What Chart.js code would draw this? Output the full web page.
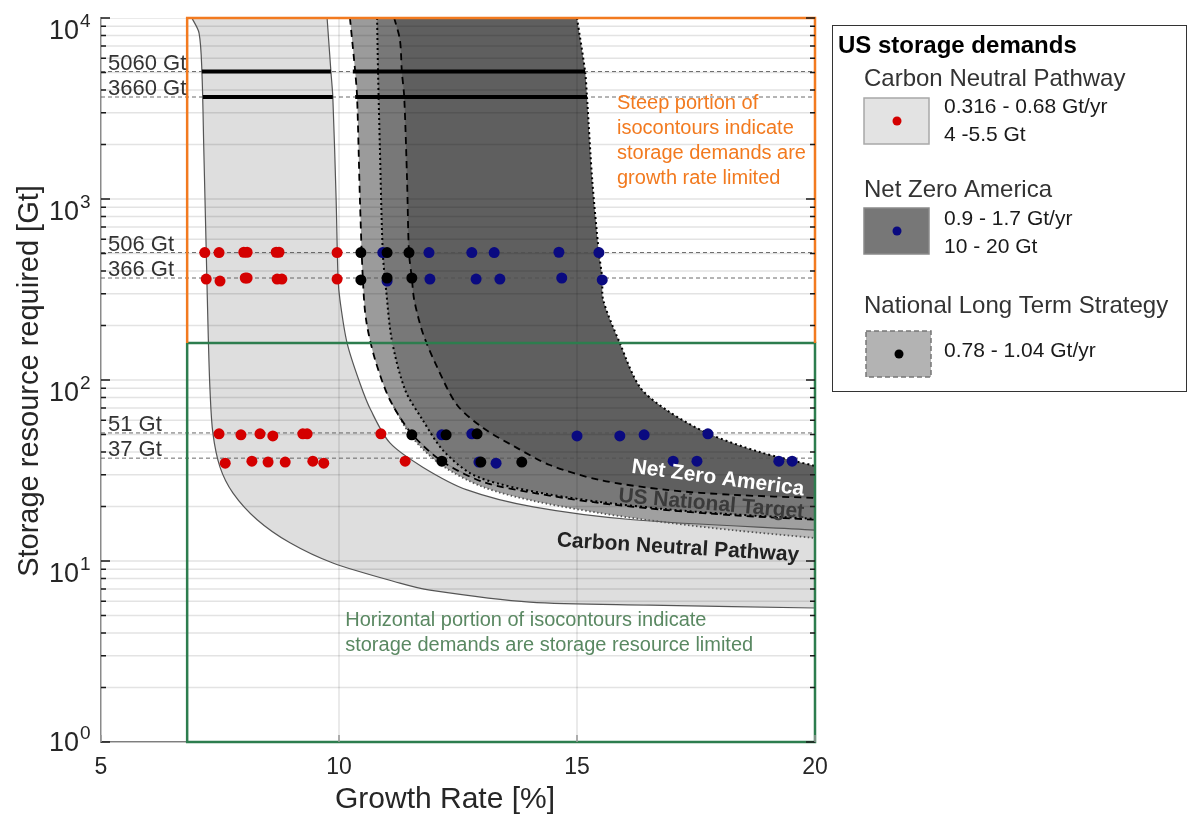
<!DOCTYPE html>
<html>
<head>
<meta charset="utf-8">
<title>US storage demands</title>
<script src="https://cdn.jsdelivr.net/npm/chart.js@4.4.1/dist/chart.umd.min.js"></script>
<style>
  html, body { margin: 0; padding: 0; background: #fff; }
  #wrap { width: 1192px; height: 817px; }
</style>
</head>
<body>
<div id="wrap"><canvas id="storageChart" width="1192" height="817"></canvas></div>
<script>
// ---- data (growth rate %, storage Gt) ----
var growthTicks = [5, 10, 15, 20];
var yMajor = [1, 10, 100, 1000, 10000];
var yMajorExp = ['0', '1', '2', '3', '4'];
var yMantissa = [1, 2, 3, 4, 5, 6, 7, 8, 9];

// isocontour boundaries
var cnpLow = [[6.91,10000],[7.06,8260],[7.12,5060],[7.16,1866],[7.21,522],[7.25,189],[7.29,88],[7.35,51],[7.50,33],[7.77,23.8],[8.28,16.9],[8.97,12.6],[9.87,9.75],[11.28,7.55],[11.91,6.91],[14.01,5.93],[16.53,5.71],[20,5.5]];
var cnpHigh = [[9.75,10000],[9.83,5060],[9.87,3660],[9.94,986],[9.98,366],[10.02,277],[10.17,160],[10.44,96],[10.67,68],[11.07,44.9],[11.76,33],[12.69,24.7],[14.08,19.9],[16.18,16.9],[20,14.8]];
var nltsLow = [[10.23,10000],[10.34,5060],[10.38,3660],[10.44,986],[10.50,366],[10.57,214],[10.76,129],[11.07,77.6],[11.53,50.4],[12.16,35.6],[13.03,27.3],[14.08,23.8],[15.48,20.9],[16.89,19.1],[18.28,17.9],[20,16.9]];
var nltsHigh = [[11.16,10000],[11.28,7560],[11.32,5060],[11.37,3660],[11.43,1274],[11.47,506],[11.53,366],[11.58,277],[11.76,182],[12.06,118],[12.48,72.8],[13.03,54.3],[13.70,42.7],[14.43,33.9],[15.48,28.0],[16.89,24.7],[18.28,23.2],[20,22.3]];
var nltsOuter = [[11.07,77.6],[11.53,48.5],[12.16,33.8],[13.03,25.6],[14.08,21.5],[15.48,18.4],[16.89,16.3],[18.28,14.8],[20,13.4]];
var nzaLow = [[10.80,10000],[10.82,5060],[10.86,1866],[10.92,506],[10.99,314],[11.11,166],[11.39,88],[11.76,60],[12.18,41],[12.75,30.6],[13.38,26.6],[14.43,23.3],[15.48,21.2],[16.89,19.3],[18.28,18.1],[20,17.1]];
var nzaHigh = [[15.0,10000],[15.17,5060],[15.21,3660],[15.32,1274],[15.46,506],[15.53,366],[15.55,277],[15.90,160],[16.32,91.5],[16.89,68],[17.73,51],[18.84,40],[20,33.5]];

// scenario points
var cnpPts = [[7.18,506],[7.48,506],[8.00,508],[8.07,508],[8.68,508],[8.74,508],[9.96,506],
  [7.21,361],[7.50,352],[8.03,366],[8.07,366],[8.70,361],[8.80,361],[9.96,361],
  [7.48,50.4],[7.94,49.8],[8.34,50.4],[8.61,49.1],[9.24,50.4],[9.33,50.4],[10.88,50.4],
  [7.61,34.7],[8.17,35.6],[8.51,35.2],[8.87,35.2],[9.45,35.6],[9.68,34.7],[11.39,35.6]];
var nltsPts = [[10.46,506],[11.01,506],[11.47,506],[10.46,357],[11.01,366],[11.53,366],
  [11.53,49.8],[12.25,49.8],[12.90,50.4],[12.16,35.6],[12.98,35.2],[13.84,35.2]];
var nzaPts = [[10.92,506],[11.89,506],[12.79,506],[13.26,506],[14.62,508],[15.46,506],
  [11.01,352],[11.91,361],[12.88,361],[13.38,361],[14.68,366],[15.53,357],
  [12.16,49.8],[12.79,50.4],[15.0,49.1],[15.90,49.1],[16.41,49.8],[17.75,50.4],
  [12.94,35.2],[13.30,34.7],[17.02,35.6],[17.52,35.6],[19.24,35.6],[19.52,35.6]];

// reference storage levels
var refLevels = [5060, 3660, 506, 366, 51, 37];
var refLabels = ['5060 Gt', '3660 Gt', '506 Gt', '366 Gt', '51 Gt', '37 Gt'];
var thickLevels = [5060, 3660];
var thickSpans = [[[7.12, 9.83], [10.29, 15.17]], [[7.14, 9.87], [10.34, 15.21]]];

// limit boxes
var boxX = [6.81, 20];
var boxSplit = 160;
var boxY = [1, 10000];

var steepNote = ['Steep portion of', 'isocontours indicate', 'storage demands are', 'growth rate limited'];
var flatNote = ['Horizontal portion of isocontours indicate', 'storage demands are storage resource limited'];

var legendItems = [
  { name: 'Carbon Neutral Pathway', lines: ['0.316 - 0.68 Gt/yr', '4 -5.5 Gt'] },
  { name: 'Net Zero America', lines: ['0.9 - 1.7 Gt/yr', '10 - 20 Gt'] },
  { name: 'National Long Term Strategy', lines: ['0.78 - 1.04 Gt/yr'] }
];

// ---- styling ----
var FONT = '"Liberation Sans", Arial, Helvetica, sans-serif';
var RED = '#d40000', NAVY = '#0a0a80', ORANGE = '#f27a1f', GREEN = '#2d7d4e';

var regionFills = [
  { low: 'nzaLow', high: 'nzaHigh', color: 'rgb(95,95,95)' },
  { low: 'nltsOuter', high: 'nltsLow', color: 'rgb(160,160,160)', partial: true },
  { low: 'nltsLow', high: 'nltsHigh', color: 'rgba(127,127,127,0.78)' },
  { low: 'cnpLow', high: 'cnpHigh', color: 'rgba(200,200,200,0.6)' }
];

var curveTags = [
  { text: 'Net Zero America', x: 17.96, y: 28.6, angle: 7.5, color: '#ffffff' },
  { text: 'US National Target', x: 17.82, y: 20.6, angle: 5, color: '#3a3a3a' },
  { text: 'Carbon Neutral Pathway', x: 17.12, y: 11.8, angle: 3.5, color: '#222222' }
];

function pts(arr) {
  return arr.map(function (p) { return { x: p[0], y: p[1] }; });
}

function curve(key, arr, dash, width, color) {
  return {
    key: key, data: pts(arr), showLine: true, pointRadius: 0, pointHoverRadius: 0,
    borderColor: color, borderWidth: width, borderDash: dash, tension: 0.3,
    fill: false, order: 5
  };
}

function findLine(chart, key) {
  var i = chart.data.datasets.findIndex(function (d) { return d.key === key; });
  return chart.getDatasetMeta(i).dataset;
}

var datasets = [
  { label: 'National Long Term Strategy', data: pts(nltsPts), showLine: false, pointRadius: 5.5,
    pointBackgroundColor: '#000', pointBorderWidth: 0, order: 0 },
  { label: 'Net Zero America', data: pts(nzaPts), showLine: false, pointRadius: 5.5,
    pointBackgroundColor: NAVY, pointBorderWidth: 0, order: 1 },
  { label: 'Carbon Neutral Pathway', data: pts(cnpPts), showLine: false, pointRadius: 5.5,
    pointBackgroundColor: RED, pointBorderWidth: 0, order: 1 },
  { key: 'orangeBox', data: pts([[boxX[0], boxSplit], [boxX[0], boxY[1]], [boxX[1], boxY[1]], [boxX[1], boxSplit]]),
    showLine: true, pointRadius: 0, borderColor: ORANGE, borderWidth: 2.5, tension: 0, clip: false, order: 2 },
  { key: 'greenBox', data: pts([[boxX[0], boxSplit], [boxX[1], boxSplit], [boxX[1], boxY[0]], [boxX[0], boxY[0]], [boxX[0], boxSplit]]),
    showLine: true, pointRadius: 0, borderColor: GREEN, borderWidth: 2.5, tension: 0, clip: false, order: 2 },
  curve('cnpLow', cnpLow, [], 1.2, '#555555'),
  curve('cnpHigh', cnpHigh, [], 1.2, '#555555'),
  curve('nltsLow', nltsLow, [7, 5], 1.8, '#000000'),
  curve('nltsHigh', nltsHigh, [7, 5], 1.8, '#000000'),
  curve('nltsOuter', nltsOuter, [1.5, 2.5], 1.8, '#555555'),
  curve('nzaLow', nzaLow, [2, 3], 2, '#000000'),
  curve('nzaHigh', nzaHigh, [2, 3], 2, '#000000')
];

thickLevels.forEach(function (lvl, i) {
  thickSpans[i].forEach(function (span) {
    datasets.push({ key: 'thick', data: pts([[span[0], lvl], [span[1], lvl]]), showLine: true,
      pointRadius: 0, borderColor: '#000', borderWidth: 4, tension: 0, order: 3 });
  });
});

var decor = {
  id: 'decor',
  beforeDraw: function (chart) {
    var ctx = chart.ctx;
    ctx.save();
    ctx.fillStyle = '#fff';
    ctx.fillRect(0, 0, chart.width, chart.height);
    ctx.restore();
  },
  beforeDatasetsDraw: function (chart) {
    var ctx = chart.ctx, a = chart.chartArea, xs = chart.scales.x, ys = chart.scales.y;
    ctx.save();
    ctx.beginPath();
    ctx.rect(a.left, a.top, a.right - a.left, a.bottom - a.top);
    ctx.clip();

    regionFills.forEach(function (r) {
      var lo = findLine(chart, r.low), hi = findLine(chart, r.high);
      lo.updateControlPoints(a, 'x');
      hi.updateControlPoints(a, 'x');
      ctx.beginPath();
      lo.pathSegment(ctx, lo.segments[0], { move: true });
      if (r.partial) {
        // outer band only follows the upper curve from where it splits off
        var startX = lo.points[0].x;
        var keep = hi.points.filter(function (p) { return p.x >= startX - 0.5; });
        for (var k = keep.length - 1; k >= 0; k--) ctx.lineTo(keep[k].x, keep[k].y);
      } else {
        hi.pathSegment(ctx, hi.segments[0], { move: false, reverse: true });
      }
      ctx.closePath();
      ctx.fillStyle = r.color;
      ctx.fill();
    });

    // grid on top of the shaded regions
    ctx.strokeStyle = 'rgba(0,0,0,0.11)';
    ctx.lineWidth = 1.5;
    ys.ticks.forEach(function (t) {
      var y = ys.getPixelForValue(t.value);
      ctx.beginPath(); ctx.moveTo(a.left, y); ctx.lineTo(a.right, y); ctx.stroke();
    });
    xs.ticks.forEach(function (t) {
      if (t.value <= xs.min || t.value >= xs.max) return;
      var x = xs.getPixelForValue(t.value);
      ctx.beginPath(); ctx.moveTo(x, a.top); ctx.lineTo(x, a.bottom); ctx.stroke();
    });

    ctx.setLineDash([4, 3]);
    ctx.strokeStyle = 'rgba(80,80,80,0.85)';
    ctx.lineWidth = 1;
    refLevels.forEach(function (v) {
      var y = ys.getPixelForValue(v);
      ctx.beginPath(); ctx.moveTo(a.left, y); ctx.lineTo(a.right, y); ctx.stroke();
    });
    ctx.restore();
  },
  afterDatasetsDraw: function (chart) {
    var ctx = chart.ctx, a = chart.chartArea, xs = chart.scales.x, ys = chart.scales.y;
    ctx.save();

    // inward tick marks
    ctx.strokeStyle = '#1a1a1a';
    ctx.lineWidth = 1.5;
    ys.ticks.forEach(function (t) {
      var y = ys.getPixelForValue(t.value);
      var len = yMajor.indexOf(t.value) >= 0 ? 9 : 5;
      ctx.beginPath();
      ctx.moveTo(a.left, y); ctx.lineTo(a.left + len, y);
      ctx.moveTo(a.right, y); ctx.lineTo(a.right - len, y);
      ctx.stroke();
    });
    ctx.strokeStyle = '#999';
    xs.ticks.forEach(function (t) {
      var x = xs.getPixelForValue(t.value);
      ctx.beginPath(); ctx.moveTo(x, a.bottom); ctx.lineTo(x, a.bottom - 7); ctx.stroke();
    });

    // y tick labels 10^n
    ctx.fillStyle = '#262626';
    ctx.textBaseline = 'alphabetic';
    yMajor.forEach(function (v, i) {
      var y = ys.getPixelForValue(v);
      var base = Math.min(y + 21, 751);
      ctx.font = '27px ' + FONT;
      ctx.textAlign = 'right';
      ctx.fillText('10', 79, base);
      ctx.font = '19px ' + FONT;
      ctx.textAlign = 'left';
      ctx.fillText(yMajorExp[i], 80, base - 12);
    });

    // reference level labels
    ctx.font = '22px ' + FONT;
    ctx.fillStyle = '#333';
    ctx.textAlign = 'left';
    ctx.textBaseline = 'middle';
    refLevels.forEach(function (v, i) {
      ctx.fillText(refLabels[i], a.left + 7, ys.getPixelForValue(v) - 8);
    });

    // notes
    ctx.font = '20px ' + FONT;
    ctx.fillStyle = ORANGE;
    var sx = xs.getPixelForValue(15.84), sy = ys.getPixelForValue(3350);
    steepNote.forEach(function (line, i) { ctx.fillText(line, sx, sy + i * 25); });
    ctx.fillStyle = '#5a8862';
    var fx = xs.getPixelForValue(10.13), fy = ys.getPixelForValue(4.72);
    flatNote.forEach(function (line, i) { ctx.fillText(line, fx, fy + i * 25); });

    // curve tags
    ctx.font = 'bold 21px ' + FONT;
    ctx.textAlign = 'center';
    curveTags.forEach(function (tg) {
      ctx.save();
      ctx.translate(xs.getPixelForValue(tg.x), ys.getPixelForValue(tg.y));
      ctx.rotate(tg.angle * Math.PI / 180);
      ctx.fillStyle = tg.color;
      ctx.fillText(tg.text, 0, 0);
      ctx.restore();
    });

    // axis titles
    ctx.fillStyle = '#262626';
    ctx.font = '30px ' + FONT;
    ctx.fillText('Growth Rate [%]', 445, 800);
    ctx.save();
    ctx.translate(30, 381);
    ctx.rotate(-Math.PI / 2);
    ctx.font = '29px ' + FONT;
    ctx.fillText('Storage resource required [Gt]', 0, 0);
    ctx.restore();

    drawLegend(ctx);
    ctx.restore();
  }
};

function drawLegend(ctx) {
  ctx.save();
  ctx.strokeStyle = '#333';
  ctx.lineWidth = 1;
  ctx.strokeRect(832.5, 25.5, 354, 366);
  ctx.textAlign = 'left';
  ctx.textBaseline = 'middle';
  ctx.fillStyle = '#000';
  ctx.font = 'bold 24px ' + FONT;
  ctx.fillText('US storage demands', 838, 46);

  var tops = [79, 190, 306];
  var swatches = [
    { x: 864, y: 98, fill: '#e3e3e3', stroke: '#a8a8a8', dash: [], dot: RED },
    { x: 864, y: 208, fill: '#777777', stroke: '#8a8a8a', dash: [], dot: NAVY },
    { x: 866, y: 331, fill: '#b3b3b3', stroke: '#777777', dash: [5, 3], dot: '#000' }
  ];
  var valueRows = [[107, 135], [219, 247], [351]];
  legendItems.forEach(function (item, i) {
    var s = swatches[i];
    ctx.font = '24px ' + FONT;
    ctx.fillStyle = '#333';
    ctx.fillText(item.name, 864, tops[i]);
    ctx.fillStyle = s.fill;
    ctx.fillRect(s.x, s.y, 65, 46);
    ctx.setLineDash(s.dash);
    ctx.strokeStyle = s.stroke;
    ctx.lineWidth = 1.5;
    ctx.strokeRect(s.x, s.y, 65, 46);
    ctx.setLineDash([]);
    ctx.fillStyle = s.dot;
    ctx.beginPath();
    ctx.arc(s.x + 33, s.y + 23, 4.5, 0, Math.PI * 2);
    ctx.fill();
    ctx.font = '21px ' + FONT;
    ctx.fillStyle = '#1a1a1a';
    item.lines.forEach(function (ln, j) { ctx.fillText(ln, 944, valueRows[i][j]); });
  });
  ctx.restore();
}

new Chart(document.getElementById('storageChart'), {
  type: 'line',
  data: { datasets: datasets },
  options: {
    responsive: false,
    animation: false,
    devicePixelRatio: 1,
    layout: { padding: { left: 0, right: 377, top: 18, bottom: 0 } },
    plugins: { legend: { display: false }, tooltip: { enabled: false } },
    scales: {
      x: {
        type: 'linear', min: 5, max: 20,
        afterBuildTicks: function (s) { s.ticks = growthTicks.map(function (v) { return { value: v }; }); },
        afterFit: function (s) { s.height = 75; },
        grid: { display: false, drawTicks: false },
        border: { display: true, color: '#8a8a8a', width: 1.5 },
        ticks: { padding: 12, color: '#262626', font: { family: FONT, size: 23 } }
      },
      y: {
        type: 'logarithmic', min: 1, max: 10000,
        afterBuildTicks: function (s) {
          var t = [];
          yMajor.slice(0, -1).forEach(function (d) {
            yMantissa.forEach(function (m) { t.push({ value: m * d }); });
          });
          t.push({ value: yMajor[yMajor.length - 1] });
          s.ticks = t;
        },
        afterFit: function (s) { s.width = 101; },
        grid: { display: false, drawTicks: false },
        border: { display: true, color: '#8a8a8a', width: 1.5 },
        ticks: { display: false }
      }
    }
  },
  plugins: [decor]
});
</script>
</body>
</html>
